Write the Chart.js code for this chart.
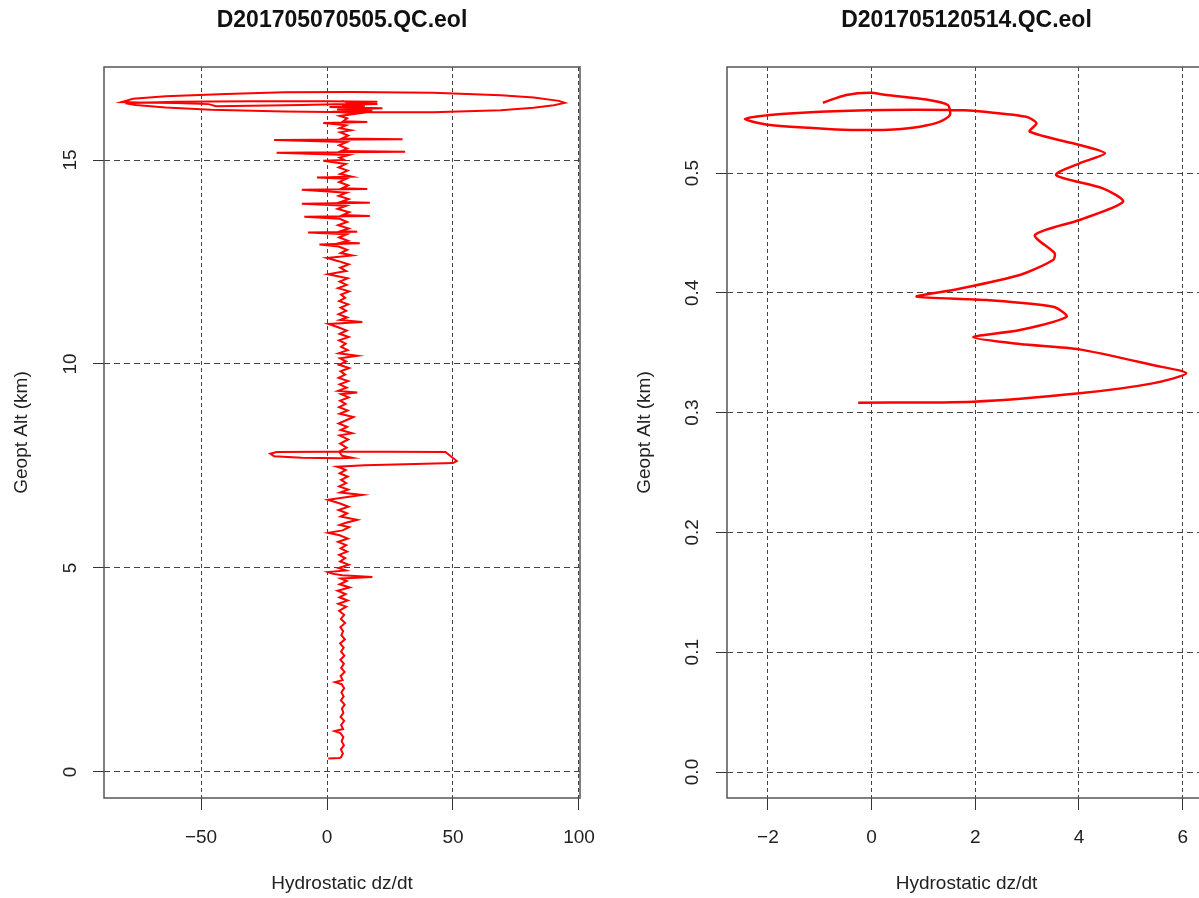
<!DOCTYPE html>
<html><head><meta charset="utf-8">
<script src="https://cdn.jsdelivr.net/npm/chart.js@4.4.0/dist/chart.umd.min.js"></script>
<style>
html,body{margin:0;padding:0;background:#fff;overflow:hidden;width:1199px;height:898px}
#wrap{position:relative;width:1199px;height:898px;overflow:hidden;background:#fff}
#c1{position:absolute;left:0;top:0}
#c2{position:absolute;left:600px;top:0}
</style></head>
<body><div id="wrap"><canvas id="c1" width="600" height="898"></canvas><canvas id="c2" width="640" height="898"></canvas></div>
<script>
// ---- Left panel: D201705070505.QC.eol ----
const leftTitle = 'D201705070505.QC.eol';
const leftAlt = [
 0.33,0.34,0.36,0.45,0.55,0.65,0.75,0.85,0.95,1.00,
 1.05,1.15,1.25,1.35,1.45,1.55,1.65,1.75,1.85,1.95,
 2.05,2.15,2.20,2.25,2.35,2.45,2.55,2.65,2.75,2.85,
 2.95,3.05,3.15,3.25,3.35,3.45,3.55,3.65,3.75,3.85,
 3.95,4.05,4.12,4.20,4.28,4.36,4.44,4.52,4.60,4.68,
 4.74,4.78,4.82,4.86,4.90,4.94,5.00,5.08,5.16,5.24,
 5.32,5.40,5.48,5.56,5.64,5.72,5.80,5.86,5.92,6.00,
 6.05,6.10,6.18,6.26,6.34,6.42,6.50,6.58,6.67,6.72,
 6.79,6.85,6.92,7.00,7.08,7.16,7.24,7.32,7.40,7.45,
 7.48,7.52,7.55,7.57,7.62,7.84,7.85,7.85,7.84,7.80,
 7.74,7.70,7.69,7.70,7.75,7.85,7.95,8.05,8.15,8.25,
 8.30,8.38,8.46,8.54,8.62,8.70,8.78,8.86,8.94,9.02,
 9.10,9.18,9.26,9.30,9.34,9.42,9.50,9.58,9.66,9.74,
 9.82,9.90,9.98,10.06,10.14,10.20,10.26,10.34,10.42,10.50,
 10.58,10.66,10.74,10.82,10.90,10.98,11.03,11.08,11.14,11.22,
 11.30,11.38,11.46,11.54,11.62,11.70,11.78,11.86,11.94,12.02,
 12.10,12.20,12.28,12.36,12.44,12.52,12.60,12.66,12.72,12.80,
 12.88,12.93,12.96,12.98,13.02,13.10,13.18,13.22,13.24,13.26,
 13.32,13.40,13.48,13.56,13.61,13.63,13.65,13.72,13.80,13.88,
 13.93,13.95,13.97,14.04,14.12,14.20,14.27,14.29,14.31,14.38,
 14.46,14.54,14.57,14.59,14.66,14.74,14.82,14.90,14.98,15.00,
 15.06,15.12,15.18,15.20,15.22,15.28,15.36,15.44,15.49,15.51,
 15.53,15.60,15.68,15.73,15.78,15.85,15.91,15.93,15.95,16.02,
 16.08,16.14,16.18,16.22,16.24,16.27,16.30,16.32,16.35,16.37,
 16.38,16.35,16.33,16.32,16.37,16.40,16.41,16.42,16.50,16.56,
 16.62,16.66,16.67,16.65,16.59,16.53,16.45,16.40,16.34,16.28,
 16.22,16.17,16.17,16.19,16.23,16.29,16.35,16.39,16.43,16.44,
 16.44,16.43,16.41,16.45
];
const leftDzdt = [
 0.5,5.0,5.6,6.3,5.5,6.7,5.8,6.5,5.3,3.0,
 6.4,5.6,6.8,5.4,6.5,5.9,7.0,5.5,6.6,5.7,
 6.8,5.8,3.2,6.2,5.4,7.0,5.6,6.7,5.3,6.9,
 5.6,6.6,5.2,7.1,5.7,6.4,5.3,7.2,5.5,6.8,
 4.8,7.6,4.5,8.2,4.9,7.4,4.2,9.0,5.0,7.8,
 5.5,18.0,6.0,2.0,0.3,7.5,4.6,8.6,5.2,7.2,
 4.8,8.0,5.4,7.6,4.4,8.3,5.0,0.5,6.2,8.8,
 5.0,7.2,12.0,5.4,8.0,4.6,8.5,5.2,0.4,6.0,
 14.0,5.2,8.4,4.8,7.6,5.6,8.2,5.0,7.4,5.6,
 4.0,15.0,35.0,50.0,51.5,47.0,25.0,0.0,-20.0,-22.5,
 -21.0,-10.0,5.0,10.0,6.0,4.8,7.8,5.2,8.4,5.0,
 10.0,5.4,8.0,4.6,7.6,10.5,5.0,8.2,4.8,7.4,
 5.2,8.6,5.6,12.0,4.4,7.8,5.0,8.4,4.6,7.2,
 5.4,8.8,4.8,7.6,5.2,12.0,4.6,8.2,5.6,7.4,
 4.8,8.6,5.0,7.8,4.4,0.6,14.0,5.2,8.0,4.6,
 7.6,5.4,8.4,4.8,7.2,5.6,8.8,4.4,7.8,5.0,
 8.2,0.4,7.6,5.2,8.6,4.6,0.0,10.0,5.4,8.0,
 4.6,-3.0,13.0,6.0,8.4,4.8,7.8,-7.5,12.0,5.6,
 8.6,4.4,8.0,5.0,-9.0,17.0,6.2,8.8,4.2,7.6,
 -10.0,17.0,5.4,8.6,4.6,7.8,-10.0,16.0,6.0,8.4,
 4.8,7.6,-4.0,10.0,5.2,8.2,4.6,7.4,-1.5,6.8,
 5.0,8.6,-20.0,31.0,5.6,8.0,4.8,7.8,-21.0,30.0,
 6.0,8.4,5.2,9.5,5.0,7.6,-1.5,16.0,6.4,8.0,
 5.0,12.0,2.0,18.0,4.0,22.0,1.0,15.0,6.0,20.0,
 12.0,-10.0,-30.0,-44.0,-47.0,-60.0,-75.0,-81.5,-77.0,-64.0,
 -40.0,-17.0,10.0,42.0,69.0,82.0,92.0,94.4,90.0,82.0,
 69.0,42.0,10.0,-17.0,-46.0,-64.0,-76.0,-80.0,-60.0,-30.0,
 0.0,20.0,8.0,6.0
];
const leftXTicks = [-50, 0, 50, 100];
const leftXLabels = ['\u221250', '0', '50', '100'];
const leftYTicks = [0, 5, 10, 15];
const leftYLabels = ['0', '5', '10', '15'];

// ---- Right panel: D201705120514.QC.eol ----
const rightTitle = 'D201705120514.QC.eol';
const rightDzdt = [
 -0.26,1.96,4.01,5.42,6.07,5.42,4.01,2.86,1.96,2.86,
 3.76,3.50,2.22,0.87,1.57,2.86,3.50,3.53,3.15,4.01,
 4.85,4.46,3.56,4.01,4.50,4.01,3.05,3.18,2.98,1.96,
 1.51,0.29,-1.00,-1.96,-2.445,-1.96,-0.68,-0.03,0.42,0.93,
 1.32,1.51,1.47,1.05,0.29,-0.03,-0.49,-0.94
];
const rightAlt = [
 0.3083,0.3091,0.3161,0.3244,0.3328,0.3397,0.3528,0.3573,0.3629,0.3689,
 0.3801,0.3884,0.3940,0.3968,0.4023,0.4149,0.4274,0.4330,0.4482,0.4608,
 0.4760,0.4872,0.4983,0.5081,0.5164,0.5234,0.5345,0.5415,0.5470,0.5520,
 0.5526,0.5526,0.5512,0.5484,0.5451,0.5400,0.5364,0.5359,0.5364,0.5387,
 0.5429,0.5484,0.5568,0.5614,0.5651,0.5670,0.5651,0.5587
];
const rightXTicks = [-2, 0, 2, 4, 6];
const rightXLabels = ['\u22122', '0', '2', '4', '6'];
const rightYTicks = [0.0, 0.1, 0.2, 0.3, 0.4, 0.5];
const rightYLabels = ['0.0', '0.1', '0.2', '0.3', '0.4', '0.5'];

const xAxisTitle = 'Hydrostatic dz/dt';
const yAxisTitle = 'Geopt Alt (km)';

const FONT = '"Liberation Sans", Arial, Helvetica, sans-serif';

const boxPlugin = {
  id: 'rbox',
  afterDraw(chart) {
    const a = chart.chartArea, c = chart.ctx;
    c.save();
    c.strokeStyle = '#555';
    c.lineWidth = 1.5;
    c.strokeRect(a.left, a.top, a.right - a.left, a.bottom - a.top);
    c.restore();
  }
};

function panel(o) {
  const pts = o.xs.map((v, i) => ({x: v, y: o.ys[i]}));
  return new Chart(document.getElementById(o.id), {
    type: 'scatter',
    data: {datasets: [{
      data: pts, showLine: true, borderColor: '#ff0000', backgroundColor: '#ff0000',
      borderWidth: o.lw, pointRadius: 0, tension: o.tension, fill: false
    }]},
    options: {
      responsive: false, animation: false, events: [],
      layout: {padding: {left: 0, right: o.padRight, top: 0, bottom: 0}},
      plugins: {
        legend: {display: false}, tooltip: {enabled: false},
        title: {display: true, text: o.title, fullSize: false, color: '#111',
          font: {family: FONT, size: 23, weight: 'bold', lineHeight: 1.2},
          padding: {top: 7.2, bottom: 32.2}}
      },
      scales: {
        x: {
          type: 'linear', position: 'bottom', min: o.xMin, max: o.xMax,
          afterBuildTicks: s => { s.ticks = o.xTicks.map(v => ({value: v})); },
          afterFit: s => { s.height = 100; s.paddingLeft = 0; s.paddingRight = 0; },
          grid: {color: '#444', lineWidth: 1, drawTicks: true, tickLength: 12, tickColor: '#333', tickWidth: 1},
          border: {display: false, dash: [4, 3]},
          ticks: {color: '#222', padding: 16, maxRotation: 0, autoSkip: false,
            font: {family: FONT, size: 19},
            callback: (v, i) => o.xLabels[i]},
          title: {display: true, text: xAxisTitle, color: '#222',
            font: {family: FONT, size: 19}, padding: {top: 0, bottom: 3}}
        },
        y: {
          type: 'linear', position: 'left', min: o.yMin, max: o.yMax,
          afterBuildTicks: s => { s.ticks = o.yTicks.map(v => ({value: v})); },
          afterFit: s => { s.width = o.yWidth; s.paddingTop = 0; s.paddingBottom = 0; },
          grid: {color: '#444', lineWidth: 1, drawTicks: true, tickLength: 11, tickColor: '#333', tickWidth: 1},
          border: {display: false, dash: [6, 4]},
          ticks: {color: '#222', padding: o.yTickPad, minRotation: 90, maxRotation: 90, crossAlign: 'center', autoSkip: false,
            font: {family: FONT, size: 19},
            callback: (v, i) => o.yLabels[i]},
          title: {display: true, text: yAxisTitle, color: '#222',
            font: {family: FONT, size: 19}, padding: {top: o.yTitlePad, bottom: 0}}
        }
      }
    },
    plugins: [boxPlugin]
  });
}

panel({id: 'c1', title: leftTitle, xs: leftDzdt, ys: leftAlt,
  xTicks: leftXTicks, xLabels: leftXLabels, yTicks: leftYTicks, yLabels: leftYLabels,
  xMin: -88.5, xMax: 100.4, yMin: -0.64, yMax: 17.28,
  yWidth: 104, padRight: 20, yTickPad: 12, yTitlePad: 10.6, tension: 0, lw: 2});

panel({id: 'c2', title: rightTitle, xs: rightDzdt, ys: rightAlt,
  xTicks: rightXTicks, xLabels: rightXLabels, yTicks: rightYTicks, yLabels: rightYLabels,
  xMin: -2.79, xMax: 6.45, yMin: -0.0217, yMax: 0.5885,
  yWidth: 127, padRight: 34, yTickPad: 10, yTitlePad: 33.6, tension: 0.25, lw: 2.5});
</script>
</body></html>
